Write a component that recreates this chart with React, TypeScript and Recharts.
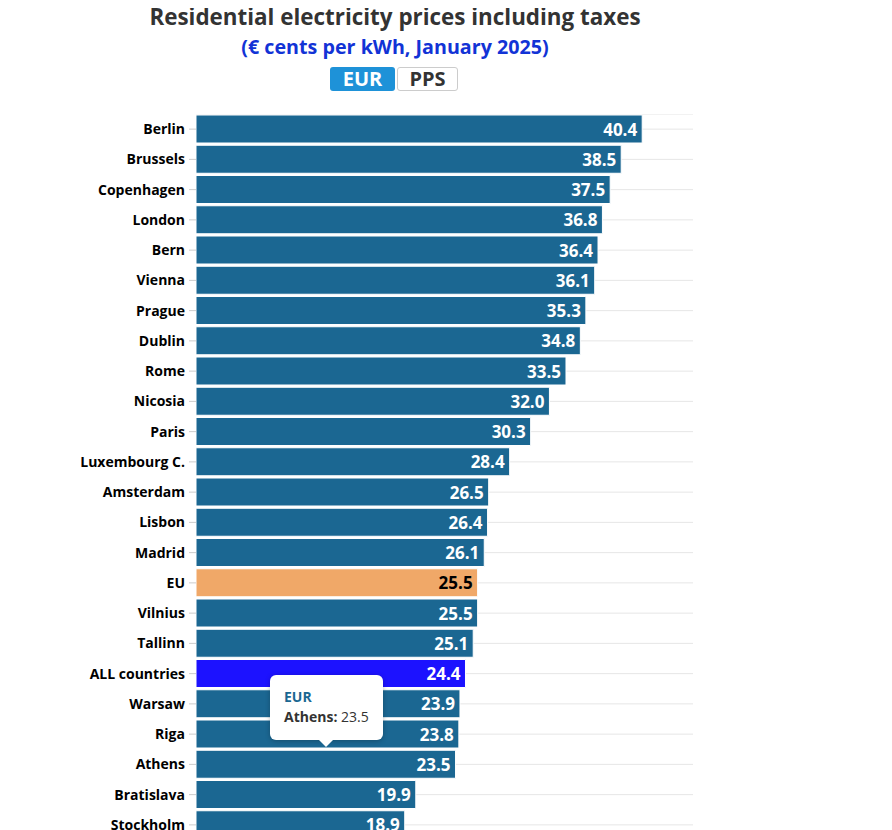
import React from 'react';
import { BarChart, Bar, XAxis, YAxis, CartesianGrid, Cell, LabelList, Tooltip } from 'recharts';

const cities = [
  'Berlin', 'Brussels', 'Copenhagen', 'London', 'Bern', 'Vienna', 'Prague', 'Dublin',
  'Rome', 'Nicosia', 'Paris', 'Luxembourg C.', 'Amsterdam', 'Lisbon', 'Madrid', 'EU',
  'Vilnius', 'Tallinn', 'ALL countries', 'Warsaw', 'Riga', 'Athens', 'Bratislava', 'Stockholm',
];
const prices = [
  40.4, 38.5, 37.5, 36.8, 36.4, 36.1, 35.3, 34.8,
  33.5, 32.0, 30.3, 28.4, 26.5, 26.4, 26.1, 25.5,
  25.5, 25.1, 24.4, 23.9, 23.8, 23.5, 19.9, 18.9,
];

const BAR = '#1b6792';
const EU_COLOR = '#f0a868';
const ALL_COLOR = '#1c12ff';
const FONT = '"Open Sans", sans-serif';

const data = cities.map((name, i) => ({ name, value: prices[i] }));

const barColor = (name: string) => (name === 'EU' ? EU_COLOR : name === 'ALL countries' ? ALL_COLOR : BAR);

const ValueLabel = (props: any) => {
  const { x, y, width, height, value, index } = props;
  const isEU = cities[index] === 'EU';
  return (
    <text
      x={x + width - 5}
      y={y + height / 2}
      textAnchor="end"
      dominantBaseline="central"
      fontFamily={FONT}
      fontWeight={700}
      fontSize={17}
      fill={isEU ? '#000' : '#fff'}
    >
      {Number(value).toFixed(1)}
    </text>
  );
};

const TipBox = ({ active, payload }: any) => {
  if (!active || !payload || !payload.length) return null;
  const p = payload[0].payload;
  return (
    <div style={{ position: 'relative', fontFamily: FONT }}>
      <div
        style={{
          background: '#fff',
          borderRadius: 6,
          boxShadow: '0 1px 5px rgba(0,0,0,0.25)',
          width: 113,
          height: 65,
          boxSizing: 'border-box',
          padding: '12px 0 0 14px',
          fontSize: 14,
          lineHeight: '20px',
          color: '#333',
        }}
      >
        <div style={{ color: BAR, fontWeight: 700 }}>EUR</div>
        <div>
          <b>{p.name}:</b> {p.value.toFixed(1)}
        </div>
      </div>
      <div
        style={{
          position: 'absolute',
          left: 48,
          top: 64,
          width: 0,
          height: 0,
          borderLeft: '8px solid transparent',
          borderRight: '8px solid transparent',
          borderTop: '8px solid #fff',
        }}
      />
    </div>
  );
};

export default function App() {
  return (
    <div style={{ position: 'relative', width: 774, height: 822, fontFamily: FONT }}>
      <div
        style={{
          position: 'absolute', top: -3, left: 0, width: 774, textAlign: 'center',
          fontSize: 22.4, lineHeight: '24px', fontWeight: 700, color: '#333',
        }}
      >
        Residential electricity prices including taxes
      </div>
      <div
        style={{
          position: 'absolute', top: 28, left: 0, width: 774, textAlign: 'center',
          fontSize: 19.7, lineHeight: '22px', fontWeight: 700, color: '#1233d6',
        }}
      >
        (€ cents per kWh, January 2025)
      </div>
      <div style={{ position: 'absolute', top: 59, left: 322, display: 'flex', gap: 2 }}>
        <div
          style={{
            width: 65, height: 24, boxSizing: 'border-box', background: '#1e92d8', color: '#fff',
            borderRadius: 3, fontSize: 20, fontWeight: 700, lineHeight: '24px', textAlign: 'center',
          }}
        >
          EUR
        </div>
        <div
          style={{
            width: 61, height: 24, boxSizing: 'border-box', background: '#fff', color: '#333',
            border: '1px solid #ccc', borderRadius: 3, fontSize: 20, fontWeight: 700,
            lineHeight: '22px', textAlign: 'center',
          }}
        >
          PPS
        </div>
      </div>
      <div style={{ position: 'absolute', top: 106, left: 0 }}>
        <BarChart
          width={774}
          height={726}
          data={data}
          layout="vertical"
          margin={{ top: 0, right: 89, bottom: 0, left: 0 }}
          barCategoryGap={1}
        >
          <CartesianGrid vertical={false} stroke="#e6e6e6" />
          <XAxis type="number" domain={[0, 45]} hide />
          <YAxis
            type="category"
            dataKey="name"
            width={188}
            axisLine={false}
            tickLine={{ stroke: '#ccc' }}
            tickSize={7}
            tickMargin={4}
            interval={0}
            tick={{ fontFamily: FONT, fontSize: 14, fontWeight: 700, fill: '#000' }}
          />
          <Tooltip
            content={<TipBox />}
            defaultIndex={21}
            active
            cursor={false}
            position={{ x: 262, y: 561 }}
            isAnimationActive={false}
          />
          <Bar dataKey="value" stroke="#fff" strokeWidth={1} isAnimationActive={false}>
            {data.map((d, i) => (
              <Cell key={i} fill={barColor(d.name)} />
            ))}
            <LabelList dataKey="value" content={ValueLabel} />
          </Bar>
        </BarChart>
      </div>
    </div>
  );
}
